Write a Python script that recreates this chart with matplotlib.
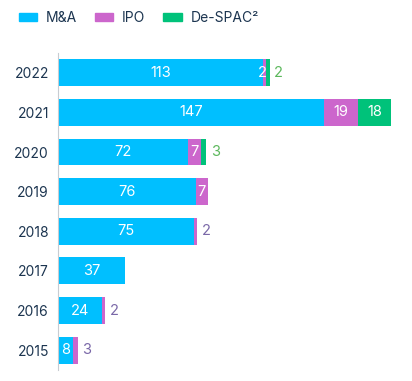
import matplotlib.pyplot as plt
import numpy as np
from matplotlib.patches import Patch

plt.rcParams['font.family'] = ['Inter', 'DejaVu Sans']

years = ['2022', '2021', '2020', '2019', '2018', '2017', '2016', '2015']
ma = [113, 147, 72, 76, 75, 37, 24, 8]
ipo = [2, 19, 7, 7, 2, 0, 2, 3]
despac = [2, 18, 3, 0, 0, 0, 0, 0]

c_ma = '#00bfff'
c_ipo = '#cc66cc'
c_ds = '#00c27a'
c_ipo_txt = '#7a68a8'
c_ds_txt = '#5cb85c'
txt = '#1c3550'

fig = plt.figure(figsize=(4.12, 3.81), dpi=100)
ax = fig.add_axes([0.141, 0.029, 0.83, 0.832])

y = np.arange(len(years))
h = 0.68
ax.barh(y, ma, height=h, color=c_ma)
ax.barh(y, ipo, left=ma, height=h, color=c_ipo)
left2 = np.array(ma) + np.array(ipo)
ax.barh(y, despac, left=left2, height=h, color=c_ds)

# value labels: white inside, coloured outside for small last segments
series = [(ma, np.zeros(len(ma)), c_ma), (ipo, np.array(ma), c_ipo_txt), (despac, left2, c_ds_txt)]
for i in range(len(years)):
    vals = [ma[i], ipo[i], despac[i]]
    last = max(k for k in range(3) if vals[k] > 0)
    for k, (v, lft, col) in enumerate(series):
        if v[i] == 0:
            continue
        start = lft[i]
        if k == last and v[i] < 5:
            ax.text(start + v[i] + 2.5, i, str(v[i]), color=col, va='center', ha='left', fontsize=10.5)
        elif v[i] < 5:
            ax.text(start + v[i] / 2 - 1, i, str(v[i]), color='white', va='center', ha='center', fontsize=10.5)
        else:
            ax.text(start + v[i] / 2, i, str(v[i]), color='white', va='center', ha='center', fontsize=10.5)

ax.set_yticks(y)
ax.set_yticklabels(years, color=txt, fontsize=10)
ax.set_ylim(len(years) - 0.5, -0.5)
ax.set_xlim(0, 189)
ax.set_xticks([])
for s in ['top', 'right', 'bottom']:
    ax.spines[s].set_visible(False)
ax.spines['left'].set_color('#c8ccd2')
ax.tick_params(axis='y', length=0, pad=6.5)

handles = [Patch(color=c_ma, label='M&A'), Patch(color=c_ipo, label='IPO'), Patch(color=c_ds, label='De-SPAC²')]
leg = fig.legend(handles=handles, loc='upper left', bbox_to_anchor=(0.015, 1.005), ncol=3, frameon=False,
                 fontsize=10, handlelength=1.3, handleheight=0.5, columnspacing=1.3, handletextpad=0.65)
for t in leg.get_texts():
    t.set_color(txt)

fig.savefig('out.png', dpi=100)
